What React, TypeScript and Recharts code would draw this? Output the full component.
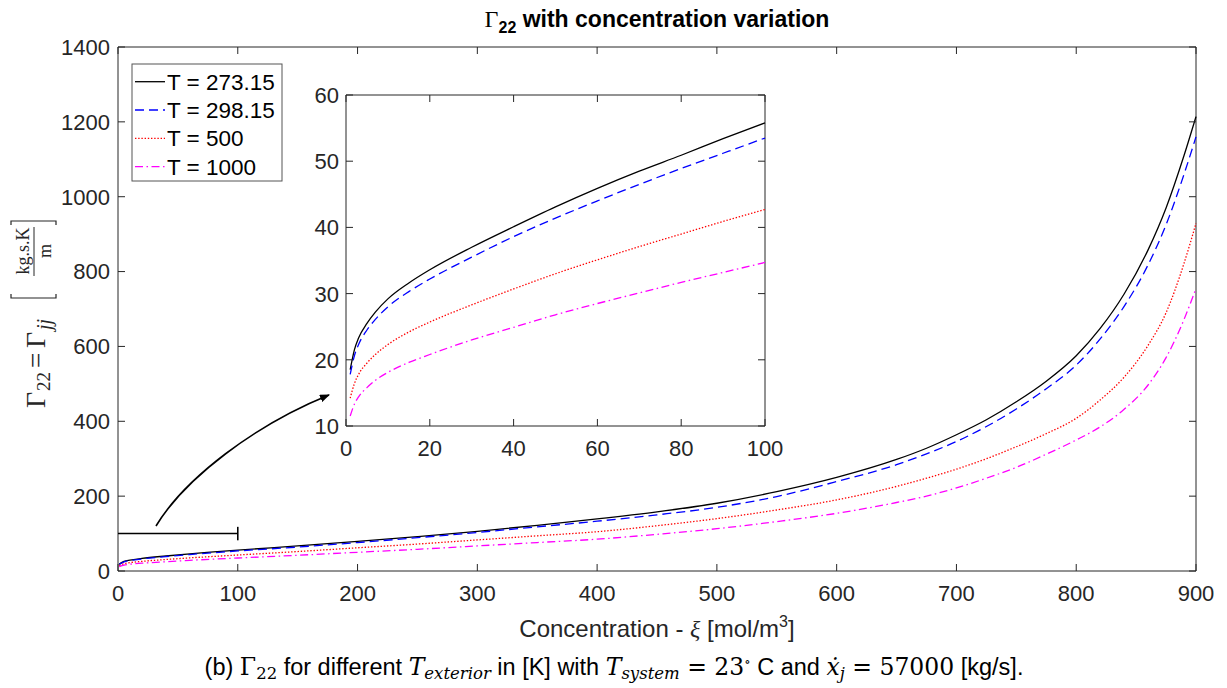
import React from 'react';
import { LineChart, Line, XAxis, YAxis, ReferenceArea, ReferenceLine } from 'recharts';

// main plot: concentration xi [mol/m^3]
const mainXi = [1, 5, 10, 20, 40, 60, 80, 100, 150, 200, 250, 300, 350, 400, 450, 500, 550, 600, 650, 675, 700, 725, 750, 775, 800, 820, 840, 860, 875, 890, 900];
const mainT273 = [18.5, 25.5, 29.2, 33.6, 40.1, 45.9, 50.9, 55.8, 67, 79, 92, 106, 122, 139, 158, 181, 212, 250, 298, 328, 364, 404, 452, 507, 575, 648, 740, 858, 970, 1110, 1214];
const mainT298 = [17.8, 24.5, 28.0, 32.2, 38.6, 44.0, 48.9, 53.5, 64, 76, 89, 103, 118, 133, 150, 170, 199, 239, 284, 313, 346, 386, 433, 487, 550, 620, 707, 818, 925, 1060, 1160];
const mainT500 = [14.2, 19.5, 22.3, 25.7, 30.7, 35.1, 39.0, 42.7, 52, 62, 72, 83, 94, 105, 121, 140, 163, 190, 226, 248, 272, 300, 332, 367, 408, 457, 518, 603, 690, 822, 929];
const mainT1000 = [11.5, 15.8, 18.1, 20.8, 24.9, 28.5, 31.7, 34.7, 42, 50, 58, 67, 76, 85, 98, 113, 132, 154, 183, 200, 222, 248, 277, 312, 350, 385, 432, 497, 570, 672, 755];

// inset (zoom on 0..100)
const insetXi = [1, 2, 3, 5, 7, 10, 15, 20, 30, 40, 50, 60, 70, 80, 90, 100];
const insetT273 = [18.5, 21.5, 23.3, 25.5, 27.2, 29.2, 31.6, 33.6, 37.0, 40.1, 43.1, 45.9, 48.5, 50.9, 53.4, 55.8];
const insetT298 = [17.8, 20.6, 22.3, 24.5, 26.1, 28.0, 30.3, 32.2, 35.5, 38.6, 41.4, 44.0, 46.5, 48.9, 51.2, 53.5];
const insetT500 = [14.2, 16.4, 17.8, 19.5, 20.8, 22.3, 24.2, 25.7, 28.3, 30.7, 33.0, 35.1, 37.1, 39.0, 40.9, 42.7];
const insetT1000 = [11.5, 13.3, 14.4, 15.8, 16.9, 18.1, 19.6, 20.8, 23.0, 24.9, 26.8, 28.5, 30.1, 31.7, 33.2, 34.7];

const mainXTicks = [0, 100, 200, 300, 400, 500, 600, 700, 800, 900];
const mainYTicks = [0, 200, 400, 600, 800, 1000, 1200, 1400];
const insetXTicks = [0, 20, 40, 60, 80, 100];
const insetYTicks = [10, 20, 30, 40, 50, 60];

const seriesNames = ['T = 273.15', 'T = 298.15', 'T = 500', 'T = 1000'];

const SERIES = [
  { key: 't273', name: seriesNames[0], color: '#000000', dash: undefined },
  { key: 't298', name: seriesNames[1], color: '#0000ff', dash: '9 5' },
  { key: 't500', name: seriesNames[2], color: '#ff0000', dash: '1.4 1.8' },
  { key: 't1000', name: seriesNames[3], color: '#ff00ff', dash: '8 3.5 1.5 3.5' },
];

const mainData = mainXi.map((xi, i) => ({
  xi, t273: mainT273[i], t298: mainT298[i], t500: mainT500[i], t1000: mainT1000[i],
}));
const insetData = insetXi.map((xi, i) => ({
  xi, t273: insetT273[i], t298: insetT298[i], t500: insetT500[i], t1000: insetT1000[i],
}));

const AXIS = '#262626';
const SANS = '"Liberation Sans", Arial, Helvetica, sans-serif';
const SERIF = '"Liberation Serif", "DejaVu Serif", serif';
const MATH = '"DejaVu Serif", "Liberation Serif", serif';
const TICK_FONT = { fontFamily: SANS, fontSize: 22, fill: AXIS };

type Box = { left: number; right: number; top: number; bottom: number };
const MAIN_BOX: Box = { left: 118, right: 1196, top: 47, bottom: 571 };
// inset svg is offset by (290, 80)
const INSET_BOX: Box = { left: 56, right: 475, top: 15, bottom: 346 };

const XTick = ({ x, y, payload, box }: any) => (
  <g>
    <line x1={x} x2={x} y1={box.bottom} y2={box.bottom - 7} stroke={AXIS} />
    <line x1={x} x2={x} y1={box.top} y2={box.top + 7} stroke={AXIS} />
    <text x={x} y={y} dy="0.71em" textAnchor="middle" {...TICK_FONT}>{payload.value}</text>
  </g>
);

const YTick = ({ x, y, payload, box }: any) => (
  <g>
    <line x1={box.left} x2={box.left + 7} y1={y} y2={y} stroke={AXIS} />
    <line x1={box.right} x2={box.right - 7} y1={y} y2={y} stroke={AXIS} />
    <text x={x} y={y} dy="0.36em" textAnchor="end" {...TICK_FONT}>{payload.value}</text>
  </g>
);

const renderLines = () =>
  SERIES.map((s) => (
    <Line
      key={s.key}
      type="monotone"
      dataKey={s.key}
      name={s.name}
      stroke={s.color}
      strokeWidth={1.3}
      strokeDasharray={s.dash}
      dot={false}
      isAnimationActive={false}
    />
  ));

const Legend = () => (
  <g transform="translate(132,64)">
    <rect x={0} y={0} width={150} height={117} fill="#fff" stroke="#555" strokeWidth={1} />
    {SERIES.map((s, i) => {
      const y = 17.7 + i * 28.3;
      return (
        <g key={s.key}>
          <line x1={3} x2={33} y1={y} y2={y} stroke={s.color} strokeWidth={1.3} strokeDasharray={s.dash} />
          <text x={35} y={y + 8} fontFamily={SANS} fontSize={22.5} fill="#000">{s.name}</text>
        </g>
      );
    })}
  </g>
);

const YLabel = () => (
  <g transform="translate(45,315) rotate(-90)" fill={AXIS} fontFamily={SERIF}>
    <text x={-93} y={0} fontSize={28}>Γ</text>
    <text x={-76} y={5} fontSize={19}>22</text>
    <text x={-53} y={0} fontSize={27}>=</text>
    <text x={-33} y={0} fontSize={28}>Γ</text>
    <text x={-15} y={6} fontSize={20} fontStyle="italic">jj</text>
    <path d="M21,-34 L17,-34 L17,11 L21,11" fill="none" stroke={AXIS} strokeWidth={1.2} />
    <path d="M90,-34 L94,-34 L94,11 L90,11" fill="none" stroke={AXIS} strokeWidth={1.2} />
    <text x={64} y={-16} fontSize={18} textAnchor="middle">kg.s.K</text>
    <line x1={39} x2={88} y1={-11} y2={-11} stroke={AXIS} strokeWidth={1} />
    <text x={64} y={6} fontSize={18} textAnchor="middle">m</text>
  </g>
);

const Overlay = () => (
  <svg width={1227} height={688} style={{ position: 'absolute', left: 0, top: 0, pointerEvents: 'none' }}>
    <defs>
      <marker id="arrowHead" markerWidth="10" markerHeight="8" refX="9" refY="4" orient="auto" markerUnits="userSpaceOnUse">
        <path d="M0,0 L10,4 L0,8 Z" fill="#000" />
      </marker>
    </defs>
    <text x={657} y={27} textAnchor="middle" fontFamily={SANS} fontSize={23} fontWeight="bold" fill="#000">
      <tspan fontFamily={SERIF} fontWeight="normal" fontSize={24}>Γ</tspan>
      <tspan fontSize={16} dy={6}>22</tspan>
      <tspan dy={-6}>{' with concentration variation'}</tspan>
    </text>
    <YLabel />
    <text x={657} y={637} textAnchor="middle" fontFamily={SANS} fontSize={24} fill={AXIS}>
      <tspan>{'Concentration - '}</tspan>
      <tspan fontFamily={SERIF} fontStyle="italic">ξ</tspan>
      <tspan>{' [mol/m'}</tspan>
      <tspan fontSize={16} dy={-10}>3</tspan>
      <tspan dy={10}>]</tspan>
    </text>
    <path d="M156,526 C185,478 255,425 329,395" fill="none" stroke="#000" strokeWidth={1.6} markerEnd="url(#arrowHead)" />
    <Legend />
    <text x={614} y={675} textAnchor="middle" fontFamily={SANS} fontSize={23.5} fill="#000">
      <tspan>{'(b) '}</tspan>
      <tspan fontFamily={MATH}>Γ</tspan>
      <tspan fontFamily={MATH} fontSize={16.5} dy={4}>22</tspan>
      <tspan dy={-4}>{' for different '}</tspan>
      <tspan fontFamily={MATH} fontStyle="italic">T</tspan>
      <tspan fontFamily={MATH} fontStyle="italic" fontSize={16.5} dy={4}>exterior</tspan>
      <tspan dy={-4}>{' in [K] with '}</tspan>
      <tspan fontFamily={MATH} fontStyle="italic">T</tspan>
      <tspan fontFamily={MATH} fontStyle="italic" fontSize={16.5} dy={4}>system</tspan>
      <tspan fontFamily={MATH} dy={-4}>{' = 23'}</tspan>
      <tspan fontFamily={MATH} fontSize={13} dy={-9}>∘</tspan>
      <tspan dy={9}>{' C and '}</tspan>
      <tspan fontFamily={MATH} fontStyle="italic">ẋ</tspan>
      <tspan fontFamily={MATH} fontStyle="italic" fontSize={16.5} dy={4}>j</tspan>
      <tspan fontFamily={MATH} dy={-4}>{' = 57000'}</tspan>
      <tspan>{' [kg/s].'}</tspan>
    </text>
  </svg>
);

export default function App() {
  return (
    <div style={{ position: 'absolute', left: 0, top: 0, width: 1227, height: 688, background: '#fff' }}>
      <div style={{ position: 'absolute', left: 0, top: 0 }}>
        <LineChart width={1227} height={688} data={mainData} margin={{ top: 47, right: 31, left: 0, bottom: 0 }}>
          <XAxis
            dataKey="xi"
            type="number"
            domain={[0, 900]}
            ticks={mainXTicks}
            interval={0}
            height={117}
            tickSize={0}
            tickMargin={14}
            axisLine={false}
            tickLine={false}
            tick={(p: any) => <XTick {...p} box={MAIN_BOX} />}
          />
          <YAxis
            type="number"
            domain={[0, 1400]}
            ticks={mainYTicks}
            interval={0}
            width={118}
            tickSize={0}
            tickMargin={8}
            axisLine={false}
            tickLine={false}
            tick={(p: any) => <YTick {...p} box={MAIN_BOX} />}
          />
          <ReferenceArea x1={0} x2={900} y1={0} y2={1400} fill="none" stroke={AXIS} strokeWidth={1} />
          <ReferenceLine segment={[{ x: 0, y: 100 }, { x: 100, y: 100 }]} stroke="#000" strokeWidth={1.6} />
          <ReferenceLine segment={[{ x: 100, y: 82 }, { x: 100, y: 118 }]} stroke="#000" strokeWidth={1.6} />
          {renderLines()}
        </LineChart>
      </div>
      <div style={{ position: 'absolute', left: 290, top: 80 }}>
        <LineChart width={520} height={390} data={insetData} margin={{ top: 15, right: 45, left: 0, bottom: 0 }}>
          <XAxis
            dataKey="xi"
            type="number"
            domain={[0, 100]}
            ticks={insetXTicks}
            interval={0}
            height={44}
            tickSize={0}
            tickMargin={14}
            axisLine={false}
            tickLine={false}
            tick={(p: any) => <XTick {...p} box={INSET_BOX} />}
          />
          <YAxis
            type="number"
            domain={[10, 60]}
            ticks={insetYTicks}
            interval={0}
            width={56}
            tickSize={0}
            tickMargin={7}
            axisLine={false}
            tickLine={false}
            tick={(p: any) => <YTick {...p} box={INSET_BOX} />}
          />
          <ReferenceArea x1={0} x2={100} y1={10} y2={60} fill="#fff" fillOpacity={1} stroke={AXIS} strokeWidth={1} />
          {renderLines()}
        </LineChart>
      </div>
      <Overlay />
    </div>
  );
}
